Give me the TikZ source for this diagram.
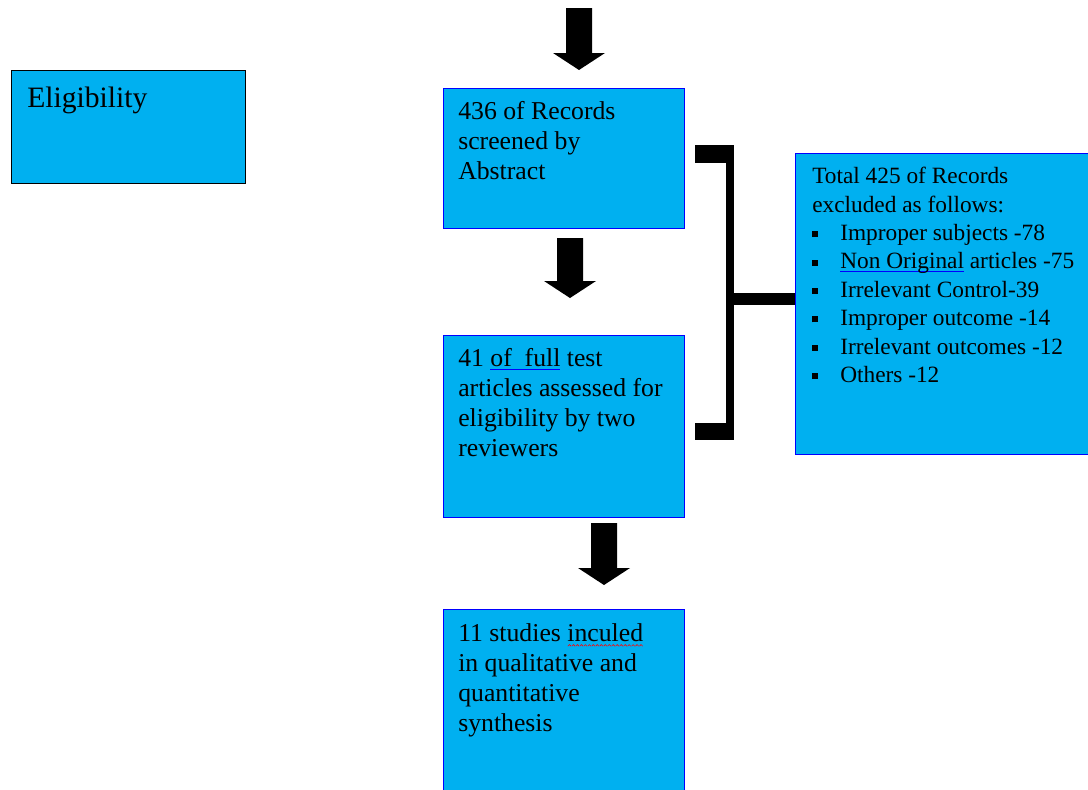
\documentclass[tikz,border=0pt]{standalone}
\usepackage{fontspec}
\setmainfont{Liberation Serif}
\usetikzlibrary{positioning}
\definecolor{boxblue}{HTML}{00B0F0}

\newcommand\blueul[1]{\setbox0\hbox{#1}\rlap{\textcolor{blue}{\rule[-2.5pt]{\wd0}{0.7pt}}}\box0\relax}
\newcommand\redwave[1]{\setbox0\hbox{#1}\rlap{\raisebox{-4pt}{\hbox to\wd0{\xleaders\hbox{\tikz[x=1pt,y=1pt,line width=0.45pt]\draw[red] (0,0)--(1.2,1.2)--(2.4,0);}\hfill}}}\box0\relax}

\begin{document}
\begin{tikzpicture}[x=0.75pt, y=-0.75pt,
  box/.style={draw=blue, line width=1pt, fill=boxblue, anchor=north west, inner sep=0pt},
  txt/.style={anchor=north west, inner sep=0pt, align=left, font=\fontsize{19.3}{22.5}\selectfont},
  bar/.style={line width=12*0.75pt}]

  \newcommand\U{0.75pt}
  \newcommand\blt{\makebox[21pt][l]{\rule[2.5pt]{4.5pt}{4.5pt}}}
  \newcommand\blockarrow[2]{\fill (#1) ++(-13,0) -- ++(26,0) -- ++(0,#2) -- ++(13,0) -- ++(-26,17) -- ++(-26,-17) -- ++(13,0) -- cycle;}

  \useasboundingbox (0,0) rectangle (1088,789);

  % left label
  \node[box, draw=black, minimum width=234*\U, minimum height=113*\U] (elig) at (11,70) {};
  \node[txt, font=\fontsize{22.2}{26}\selectfont] (eligtxt) at ([shift={(16,17)}]elig.north west) {Eligibility};

  % main column
  \node[box, minimum width=241*\U, minimum height=140*\U] (screen) at (443,88) {};
  \node[txt] (screentxt) at ([shift={(15,13)}]screen.north west) {436 of Records\\screened by\\Abstract};

  \node[box, minimum width=241*\U, minimum height=182*\U] (full) at (443,335) {};
  \node[txt] (fulltxt) at ([shift={(15,13)}]full.north west) {41 \blueul{of\ \ full} test\\articles assessed for\\eligibility by two\\reviewers};

  \node[box, minimum width=241*\U, minimum height=200*\U] (incl) at (443,609) {};
  \node[txt] (incltxt) at ([shift={(15,14)}]incl.north west) {11 studies \redwave{inculed}\\in qualitative and\\quantitative\\synthesis};

  % excluded
  \node[box, minimum width=300*\U, minimum height=301*\U] (excl) at (795,153) {};
  \node[txt, font=\fontsize{17.5}{21.3}\selectfont] (excltxt) at ([shift={(17,14)}]excl.north west) {Total 425 of Records\\excluded as follows:\\
    \blt Improper subjects -78\\
    \blt \blueul{Non Original} articles -75\\
    \blt Irrelevant Control-39\\
    \blt Improper outcome -14\\
    \blt Irrelevant outcomes -12\\
    \blt Others -12};

  % block arrows
  \coordinate (a1) at (579,8);
  \coordinate (a2) at (570,238);
  \coordinate (a3) at (604,523);
  \blockarrow{a1}{45}
  \blockarrow{a2}{43}
  \blockarrow{a3}{45}

  % bracket
  \fill (695,145) rectangle (734,163);
  \fill (726,145) rectangle (734,440);
  \fill (695,423) rectangle (734,440);
  \coordinate (brk) at (730,299);
  \draw[bar] (brk) -- (brk -| excl.west);

\end{tikzpicture}
\end{document}
